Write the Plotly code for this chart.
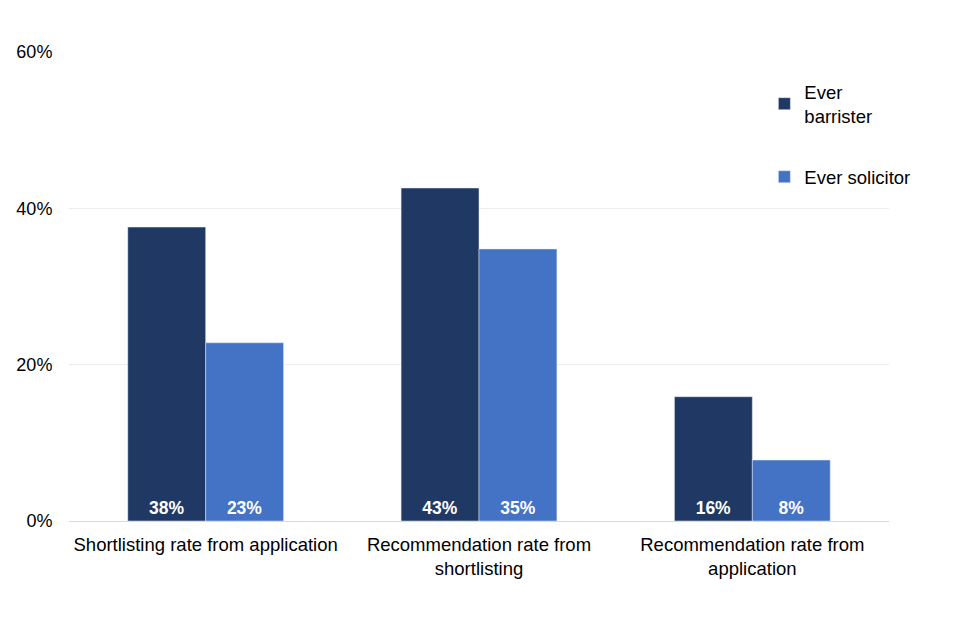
import plotly.graph_objects as go

categories = ["Shortlisting rate from application",
              "Recommendation rate from<br>shortlisting",
              "Recommendation rate from<br>application"]
barrister = [37.6, 42.6, 15.9]
solicitor = [22.8, 34.8, 7.8]
barrister_labels = ["38%", "43%", "16%"]
solicitor_labels = ["23%", "35%", "8%"]
y_ticks = [0, 20, 40, 60]
y_tick_labels = ["0%", "20%", "40%", "60%"]

font = "Liberation Sans, Arial, sans-serif"

fig = go.Figure()
fig.add_trace(go.Bar(
    name="Ever<br>barrister", x=categories, y=barrister, text=barrister_labels,
    marker_color="#203864", legendgroup="a",
    textposition="inside", insidetextanchor="start",
    textfont=dict(color="white", size=17.5, family=font, weight="bold"),
    hoverinfo="skip"))
fig.add_trace(go.Bar(
    name="Ever solicitor", x=categories, y=solicitor, text=solicitor_labels,
    marker_color="#4472C4", legendgroup="b",
    textposition="inside", insidetextanchor="start",
    textfont=dict(color="white", size=17.5, family=font, weight="bold"),
    hoverinfo="skip"))

fig.update_layout(
    width=960, height=640,
    margin=dict(l=61, r=79, t=44, b=127, autoexpand=False),
    paper_bgcolor="white", plot_bgcolor="white",
    barmode="group", bargap=0.43, bargroupgap=0,
    font=dict(family=font, size=18, color="#000000"),
    showlegend=True,
    legend=dict(x=0.848, y=0.955, xanchor="left", yanchor="top",
                tracegroupgap=34, font=dict(size=18.5, color="#000000"),
                bgcolor="rgba(0,0,0,0)"),
)
fig.update_xaxes(showline=True, linecolor="#d9d9d9", linewidth=1,
                 ticks="", ticklabelstandoff=7,
                 tickfont=dict(size=18.5, color="#000000"))
fig.update_yaxes(range=[0, 60], tickvals=y_ticks, ticktext=y_tick_labels,
                 showgrid=True, gridcolor="#ececec", gridwidth=1,
                 zeroline=False, showline=False,
                 ticks="outside", ticklen=12, tickcolor="white",
                 tickfont=dict(size=18, color="#000000"))

fig.write_html("out.html")
